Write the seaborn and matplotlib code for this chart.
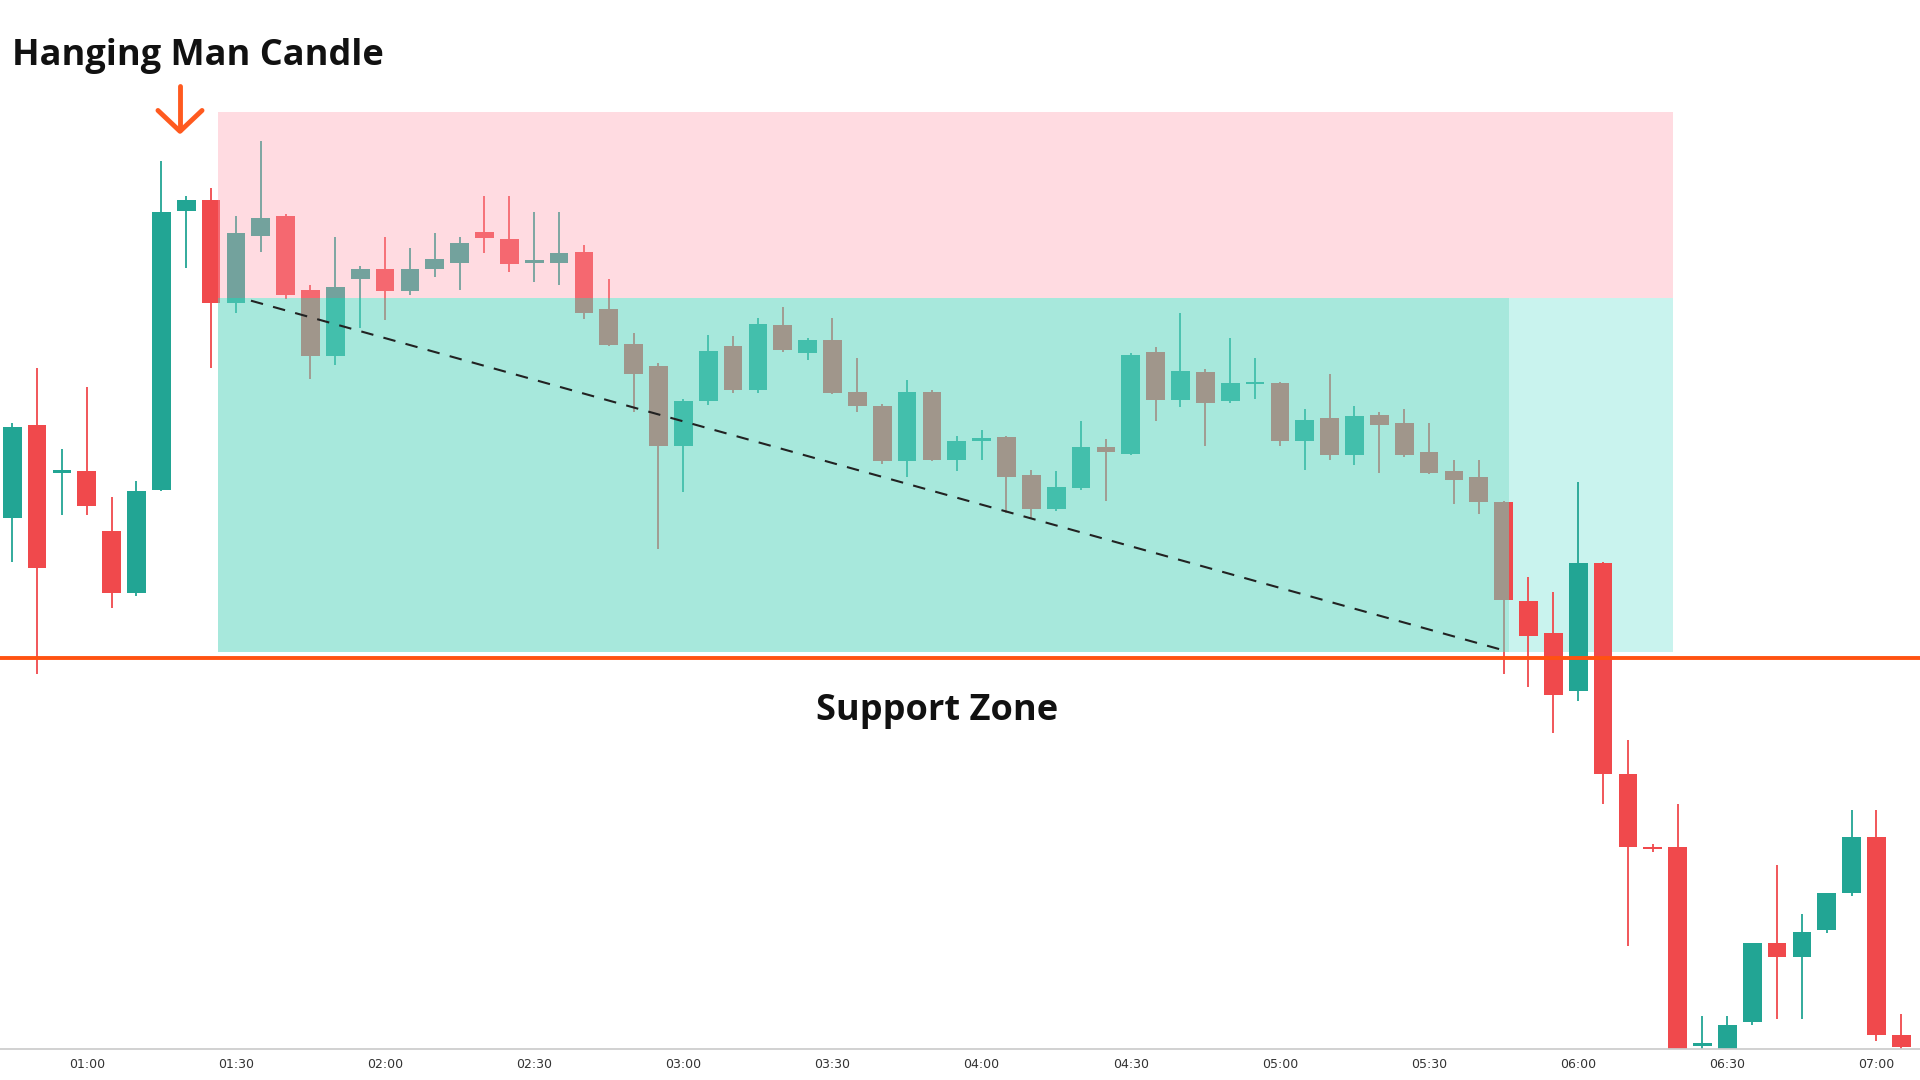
import matplotlib
matplotlib.use("Agg")
import matplotlib.pyplot as plt
import seaborn as sns
import numpy as np
import pandas as pd

opens  = [458,534,495,496,447,397,481,708,717,633,688,704,644,590,653,661,643,661,666,691,685,666,666,675,628,600,582,517,553,598,
          562,615,592,603,561,549,504,561,505,521,524,493,465,482,516,510,593,554,577,553,567,568,521,539,509,542,535,512,496,491,
          471,390,364,317,421,249,190,190,28,25,47,112,100,122,152,198,37]
highs  = [535,580,514,565,475,488,749,720,727,704,765,706,648,687,663,687,678,690,687,720,720,707,707,680,653,609,584,555,607,606,
          621,630,605,621,588,551,570,562,525,530,525,497,496,537,522,592,597,625,579,605,588,569,547,575,549,544,547,535,505,505,
          472,410,398,487,422,277,192,225,52,52,112,175,135,135,220,220,54]
lows   = [422,331,460,460,385,394,480,662,580,625,675,636,571,583,613,619,640,654,644,674,658,650,648,620,598,544,433,479,550,560,
          560,593,587,559,544,502,491,504,496,505,462,458,464,481,472,509,537,548,517,552,555,517,497,505,501,495,508,494,469,461,
          331,320,283,309,225,109,186,0,25,25,45,50,50,120,150,32,25]
closes = [532,417,495,468,397,480,707,717,633,690,702,640,590,646,661,643,661,669,682,686,665,666,674,625,599,575,517,553,594,562,
          616,595,603,560,549,504,561,505,521,521,491,465,483,516,512,591,554,578,552,568,567,521,538,509,541,534,509,495,489,471,
          391,362,314,421,249,190,188,25,30,45,112,100,121,152,198,37,27]
tick_labels = ["01:00","01:30","02:00","02:30","03:00","03:30","04:00","04:30","05:00","05:30","06:00","06:30","07:00"]
tick_pos = [3,9,15,21,27,33,39,45,51,57,63,69,75]
support_level = 344
resist_top, resist_bottom, zone_bottom = 789, 637, 349

df = pd.DataFrame({"o": opens, "h": highs, "l": lows, "c": closes})
df["i"] = np.arange(len(df))
df["up"] = df["c"] >= df["o"]

sns.set_theme(style="white")
fig = plt.figure(figsize=(19.2, 10.8), dpi=100)
ax = fig.add_axes([0, 25/880, 1, 855/880])
ax.set_xlim(-0.49, 76.75)
ax.set_ylim(25, 880)

GREEN, RED = "#22a594", "#f0494c"
cols = np.where(df["up"], GREEN, RED)
ax.vlines(df["i"], df["l"], df["h"], colors=cols, lw=1.3, zorder=2)
bottoms = np.minimum(df["o"], df["c"])
heights = np.maximum(np.abs(df["c"] - df["o"]), 2)
ax.bar(df["i"], heights, bottom=bottoms, width=0.75, color=cols, zorder=2, linewidth=0)

# zones
x0 = (178 - 10) / 20.3
x1 = (1366 - 10) / 20.3
xm = (1232 - 10) / 20.3
ax.fill_between([x0, x1], resist_bottom, resist_top, color="#ff9fae", alpha=0.37, zorder=3, lw=0)
ax.fill_between([x0, xm], zone_bottom, resist_bottom, color="#5fd6c0", alpha=0.55, zorder=3, lw=0)
ax.fill_between([xm, x1], zone_bottom, resist_bottom, color="#c9f3ee", alpha=1, zorder=1, lw=0)
ax.axhline(support_level, color="#ff5212", lw=2.8, zorder=4)
xs = (205 - 10) / 20.3
ax.plot([xs, xm], [635, 349], ls=(0, (6, 5)), color="#222222", lw=1.5, zorder=4)

ax.set_yticks([])
ax.set_xticks(tick_pos)
ax.set_xticklabels(tick_labels, fontsize=9, color="#333333")
ax.tick_params(axis="x", length=0, pad=6)
for s in ["top", "left", "right"]:
    ax.spines[s].set_visible(False)
ax.spines["bottom"].set_color("#cccccc")
ax.grid(False)

fig.text(10/1568, 1 - 46/880, "Hanging Man Candle", fontsize=26, fontweight="bold",
         family=["Open Sans", "DejaVu Sans"], va="center", ha="left", color="#111111")
fig.text(765/1568, 1 - 579/880, "Support Zone", fontsize=26, fontweight="bold",
         family=["Open Sans", "DejaVu Sans"], va="center", ha="center", color="#111111")
# arrow: shaft + chevron head
axf = fig.add_axes([0, 0, 1, 1], facecolor="none")
axf.set_xlim(0, 1568); axf.set_ylim(880, 0); axf.axis("off")
axf.plot([147, 147], [70, 106], color="#ff5a1f", lw=3.5, solid_capstyle="round")
axf.plot([129, 147, 165], [90, 107, 90], color="#ff5a1f", lw=3.5,
         solid_capstyle="round", solid_joinstyle="round")
fig.savefig("out.png", dpi=100)
